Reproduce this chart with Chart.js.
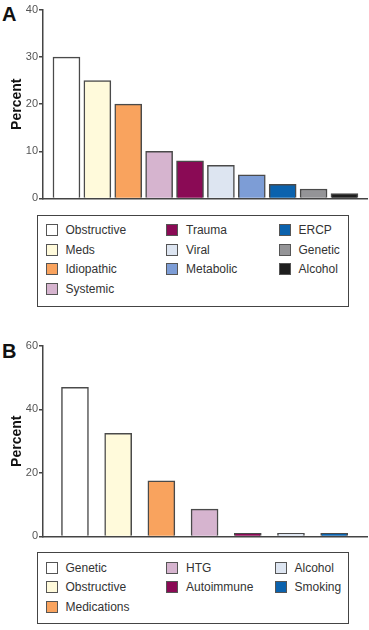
<!DOCTYPE html>
<html>
<head>
<meta charset="utf-8">
<script src="https://cdn.jsdelivr.net/npm/chart.js@4.4.1/dist/chart.umd.min.js"></script>
<style>
  body { margin: 0; width: 369px; height: 630px; background: #fff; position: relative; overflow: hidden;
         font-family: 'Liberation Sans', Arial, sans-serif; }
  .panel-label { position: absolute; left: 2px; font: bold 20px 'Liberation Sans', Arial, sans-serif; line-height: 1; color: #111; }
  .chart-box { position: absolute; left: 0; width: 369px; }
  .legend { position: absolute; left: 37px; width: 312px; box-sizing: border-box; border: 1.5px solid #444; }
  .legend .item { position: absolute; height: 20px; display: flex; align-items: center; font-size: 12px; color: #333; white-space: nowrap; }
  .legend .sw { width: 12px; height: 12px; box-sizing: border-box; border: 1px solid #555; margin-right: 8px; }
</style>
</head>
<body>
<div class="panel-label" style="top:4px">A</div>
<div class="chart-box" style="top:0; height:206px"><canvas id="chartA"></canvas></div>
<div class="legend" id="legendA" style="top:215px; height:92px"></div>

<div class="panel-label" style="top:341px">B</div>
<div class="chart-box" style="top:336px; height:208px"><canvas id="chartB"></canvas></div>
<div class="legend" id="legendB" style="top:552px; height:72px"></div>

<script>
// Panel A - etiologias
const catsA   = ['Obstructive','Meds','Idiopathic','Systemic','Trauma','Viral','Metabolic','ERCP','Genetic','Alcohol'];
const valsA   = [30, 25, 20, 10, 8, 7, 5, 3, 2, 1];
const colorsA = ['#FFFFFF','#FFFADB','#F9A35E','#D6B4CF','#8A0A55','#DDE5F1','#7D9DD6','#0B62AD','#949497','#1E1E1E'];
const ticksA  = [0, 10, 20, 30, 40];

// Panel B
const catsB   = ['Genetic','Obstructive','Medications','HTG','Autoimmune','Alcohol','Smoking'];
const valsB   = [47, 32.5, 17.5, 8.6, 1, 1, 1];
const colorsB = ['#FFFFFF','#FFFADB','#F9A35E','#D6B4CF','#8A0A55','#DDE5F1','#0B62AD'];
const ticksB  = [0, 20, 40, 60];

const AXIS_COLOR = '#444';
const FONT = "'Liberation Sans', Arial, sans-serif";

function makeChart(id, values, colors, ticks, xMin, xMax) {
  return new Chart(document.getElementById(id), {
    type: 'bar',
    data: {
      datasets: [{
        data: values.map((v, i) => ({ x: i + 1, y: v })),
        backgroundColor: colors,
        borderColor: '#4a4a4a',
        borderWidth: 1.5,
        barThickness: 27,
      }],
    },
    options: {
      responsive: true, maintainAspectRatio: false, animation: false,
      layout: { padding: { top: 10, right: 2, bottom: 5, left: 0 } },
      plugins: { legend: { display: false }, tooltip: { enabled: false } },
      scales: {
        x: {
          type: 'linear', min: xMin, max: xMax, offset: false,
          grid: { display: false },
          ticks: { display: false },
          border: { display: true, color: AXIS_COLOR, width: 1.5 },
          afterFit: s => { s.height = 0; },
        },
        y: {
          min: ticks[0], max: ticks[ticks.length - 1],
          afterBuildTicks: s => { s.ticks = ticks.map(v => ({ value: v })); },
          grid: { drawOnChartArea: false, drawTicks: true, tickLength: 4, color: AXIS_COLOR, lineWidth: 1.5 },
          border: { display: true, color: AXIS_COLOR, width: 1.5 },
          ticks: { color: '#555', padding: 1, font: { family: FONT, size: 11 } },
          title: { display: true, text: 'Percent', color: '#111', padding: { top: 9, bottom: 0 },
                   font: { family: FONT, size: 14, weight: 'bold' } },
          afterFit: s => { s.width = 43; },
        },
      },
    },
  });
}

function buildLegend(id, cats, colors, firstTop, pitch, colX) {
  const el = document.getElementById(id);
  const n = cats.length, nCols = colX.length;
  let idx = 0;
  for (let c = 0; c < nCols; c++) {
    const count = Math.floor(n / nCols) + (c < n % nCols ? 1 : 0);
    for (let r = 0; r < count; r++, idx++) {
      const item = document.createElement('div');
      item.className = 'item';
      item.style.left = colX[c] + 'px';
      item.style.top  = (firstTop + r * pitch) + 'px';
      item.innerHTML = `<span class="sw" style="background:${colors[idx]}"></span>${cats[idx]}`;
      el.appendChild(item);
    }
  }
}

makeChart('chartA', valsA, colorsA, ticksA, 0.24, 10.73);
makeChart('chartB', valsB, colorsB, ticksB, 0.26, 7.76);

buildLegend('legendA', catsA, colorsA, 4, 19.7, [7.5, 128, 240.5]);
buildLegend('legendB', catsB, colorsB, 4.5, 19.7, [7.5, 128, 236.5]);
</script>
</body>
</html>
